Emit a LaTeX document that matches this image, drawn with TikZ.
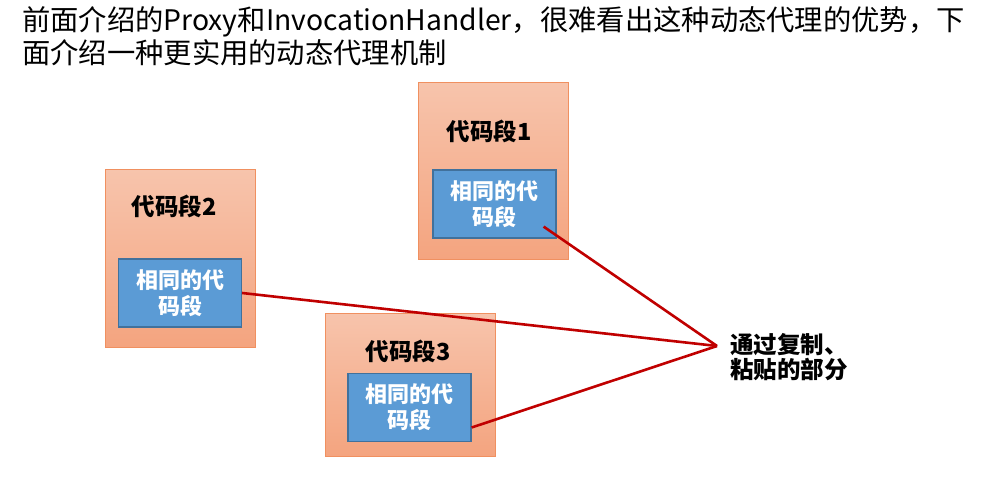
\documentclass[tikz,border=0pt]{standalone}
\usepackage{fontspec}
\usepackage{tikz}
\newfontfamily\cjk{Noto Sans CJK SC}
\usetikzlibrary{calc}

\definecolor{boxtop}{HTML}{F7C4AC}
\definecolor{boxbot}{HTML}{F4A47F}
\definecolor{boxline}{HTML}{F09060}
\definecolor{samefill}{HTML}{5B9BD5}
\definecolor{sameline}{HTML}{41719C}
\definecolor{cutred}{HTML}{C00000}

\tikzset{
  codebox/.style={draw=boxline, line width=1pt, top color=boxtop, bottom color=boxbot,
    minimum width=150pt, minimum height=177pt, inner sep=0pt},
  samebox/.style={draw=sameline, line width=1.2pt, fill=samefill, text=white,
    minimum width=123pt, minimum height=68pt, inner sep=0pt, align=center,
    font=\cjk\fontsize{22}{26}\selectfont\bfseries},
  codelabel/.style={font=\cjk\fontsize{23.5}{26}\selectfont\bfseries, inner sep=0pt},
  cutline/.style={draw=cutred, line width=2.6pt}
}

\begin{document}
\begin{tikzpicture}[x=1pt, y=-1pt]
\useasboundingbox (0,0) rectangle (985,478);

\node[anchor=north west, align=left, inner sep=0pt,
  font=\cjk\fontsize{28.3}{33}\selectfont] (title) at (22,6)
  {前面介绍的Proxy和InvocationHandler，很难看出这种动态代理的优势，下\\
   面介绍一种更实用的动态代理机制};

% three blocks of code
\node[codebox] (blk1) at (493,171) {};
\node[codelabel] (lab1) at (489,131) {代码段1};
\node[samebox] (in1) at (494.5,204) {相同的代\\码段};

\node[codebox] (blk2) at (180,258.5) {};
\node[codelabel] (lab2) at (174,206) {代码段2};
\node[samebox] (in2) at (180,293) {相同的代\\码段};

\node[codebox, minimum width=170pt, minimum height=143pt] (blk3) at (410,384.5) {};
\node[codelabel] (lab3) at (408,351) {代码段3};
\node[samebox] (in3) at (409.5,407.5) {相同的代\\码段};

\node[anchor=west, align=left, inner sep=0pt,
  font=\cjk\fontsize{23.5}{25}\selectfont\bfseries] (note) at (730,357.5)
  {通过复制、\\粘贴的部分};
\coordinate (hub) at ($(note.west)+(-13,-11.5)$);

\draw[cutline] ([shift={(-13,-12)}]in1.south east) -- (hub);
\draw[cutline] (in2.east) -- (hub);
\draw[cutline] ([shift={(0,20)}]in3.east) -- (hub);
\end{tikzpicture}
\end{document}
